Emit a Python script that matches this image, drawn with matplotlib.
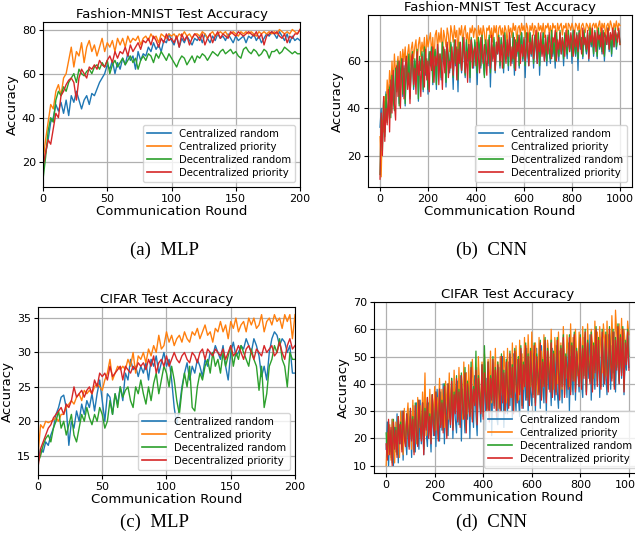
import numpy as np
import matplotlib
matplotlib.use("Agg")
import matplotlib.pyplot as plt

labels = ["Centralized random", "Centralized priority", "Decentralized random", "Decentralized priority"]
colors = ["#1f77b4", "#ff7f0e", "#2ca02c", "#d62728"]

rounds_mlp = np.arange(0, 201, 2)
rounds_cnn = np.arange(0, 1001, 5)

# (a) Fashion-MNIST, MLP
fm_mlp_cr = [17, 24, 30, 38, 40, 46, 43, 47, 42, 48,
             41, 50, 47, 52, 48, 44, 48, 50, 46, 51,
             50, 53, 56, 58, 60, 64, 62, 66, 60, 65,
             62, 67, 64, 69, 66, 68, 62, 70, 66, 69,
             68, 72, 70, 74, 71, 73, 70, 75, 74, 78,
             75, 73, 77, 72, 76, 74, 77, 75, 73, 76,
             75, 77, 74, 78, 76, 74, 77, 75, 78, 76,
             77, 75, 78, 76, 74, 77, 75, 76, 77, 74,
             77, 76, 78, 75, 77, 74, 76, 78, 77, 79,
             78, 76, 79, 77, 75, 78, 74, 77, 75, 76,
             75]
fm_mlp_cp = [20, 30, 38, 46, 44, 52, 55, 50, 58, 60,
             66, 72, 63, 70, 68, 74, 65, 72, 75, 70,
             73, 68, 72, 76, 70, 74, 72, 75, 70, 76,
             73, 76, 72, 77, 74, 76, 75, 77, 73, 76,
             77, 75, 78, 76, 77, 74, 78, 77, 76, 78,
             77, 78, 76, 78, 77, 79, 77, 78, 76, 78,
             78, 77, 79, 78, 76, 78, 79, 77, 78, 79,
             78, 79, 77, 78, 79, 78, 77, 79, 78, 79,
             78, 79, 78, 77, 79, 78, 79, 78, 79, 78,
             79, 78, 80, 79, 78, 79, 78, 80, 79, 78,
             80]
fm_mlp_dr = [12, 22, 34, 40, 38, 48, 52, 50, 54, 52,
             56, 58, 60, 56, 62, 60, 59, 61, 62, 60,
             63, 64, 62, 65, 63, 66, 60, 64, 66, 63,
             65, 67, 64, 66, 68, 65, 67, 62, 66, 68,
             66, 69, 68, 65, 69, 67, 70, 68, 66, 69,
             67, 65, 63, 66, 68, 67, 64, 66, 68, 65,
             68, 67, 69, 68, 66, 68, 70, 69, 68, 70,
             71, 69, 70, 71, 69, 70, 68, 67, 71, 72,
             70, 69, 71, 70, 68, 69, 71, 70, 67, 70,
             70, 71, 69, 70, 72, 71, 70, 69, 70, 69,
             69]
fm_mlp_dp = [18, 24, 30, 28, 35, 42, 40, 50, 52, 55,
             57, 58, 56, 48, 58, 62, 60, 58, 63, 62,
             64, 62, 66, 64, 63, 66, 68, 65, 70, 67,
             70, 69, 72, 68, 73, 70, 72, 74, 71, 75,
             74, 76, 73, 77, 75, 72, 76, 74, 78, 75,
             76, 74, 77, 72, 78, 75, 77, 73, 76, 78,
             77, 75, 78, 73, 76, 78, 74, 77, 79, 76,
             78, 77, 76, 79, 78, 77, 79, 78, 77, 78,
             79, 78, 77, 79, 76, 78, 73, 77, 78, 79,
             78, 79, 77, 76, 78, 74, 77, 76, 78, 78,
             80]

# (b) Fashion-MNIST, CNN
fm_cnn_cr = [32, 40, 25, 44, 30, 47, 35, 42, 50, 38, 55, 46, 40, 57, 48, 59, 42, 56, 60, 45,
             58, 41, 61, 50, 62, 44, 57, 63, 48, 60, 52, 64, 43, 61, 56, 63, 47, 65, 54, 60,
             46, 63, 58, 66, 50, 61, 64, 48, 66, 57, 62, 52, 67, 59, 64, 49, 66, 61, 55, 67,
             62, 48, 68, 58, 65, 47, 67, 61, 55, 69, 63, 53, 68, 60, 66, 51, 69, 64, 57, 68,
             61, 50, 69, 65, 57, 70, 60, 54, 68, 63, 58, 70, 49, 66, 61, 69, 55, 67, 63, 70,
             57, 69, 64, 55, 71, 61, 67, 56, 70, 63, 59, 71, 54, 68, 62, 70, 57, 66, 72, 60,
             68, 53, 71, 63, 58, 72, 62, 69, 57, 70, 65, 59, 71, 54, 68, 63, 72, 60, 67, 58,
             70, 64, 59, 72, 62, 68, 57, 71, 65, 60, 72, 63, 69, 58, 71, 66, 61, 72, 64, 70,
             59, 72, 66, 62, 71, 56, 73, 65, 69, 61, 72, 67, 63, 71, 60, 73, 66, 70, 62, 72,
             68, 61, 73, 65, 71, 63, 72, 60, 70, 67, 73, 64, 71, 62, 72, 66, 73, 65, 70, 72,
             68]
fm_cnn_cp = [28, 11, 35, 30, 45, 38, 52, 44, 56, 48, 60, 50, 63, 55, 58, 62, 52, 64, 57, 65,
             60, 66, 55, 63, 67, 58, 65, 68, 61, 66, 69, 57, 67, 70, 62, 68, 64, 70, 59, 71,
             66, 69, 72, 63, 70, 60, 71, 73, 65, 72, 68, 74, 62, 73, 70, 66, 74, 71, 64, 75,
             72, 68, 75, 70, 73, 63, 74, 71, 75, 67, 73, 75, 69, 72, 65, 74, 72, 75, 70, 74,
             73, 66, 75, 71, 74, 69, 75, 72, 64, 74, 73, 75, 70, 74, 68, 75, 72, 75, 66, 74,
             75, 71, 74, 69, 75, 73, 67, 75, 72, 74, 70, 76, 73, 75, 68, 74, 75, 71, 76, 73,
             75, 70, 76, 74, 68, 75, 73, 76, 71, 75, 74, 69, 76, 73, 75, 72, 76, 70, 75, 74,
             76, 72, 75, 70, 76, 74, 75, 69, 76, 73, 75, 76, 71, 75, 74, 76, 70, 76, 75, 73,
             76, 74, 71, 76, 75, 73, 76, 70, 75, 76, 74, 72, 76, 75, 73, 76, 71, 75, 76, 74,
             76, 73, 75, 77, 72, 76, 74, 76, 70, 75, 76, 73, 77, 75, 72, 76, 74, 77, 73, 76,
             75]
fm_cnn_dr = [12, 36, 22, 43, 28, 46, 34, 40, 49, 36, 54, 44, 39, 57, 47, 60, 41, 55, 61, 46,
             57, 42, 62, 51, 63, 45, 58, 64, 49, 61, 53, 65, 44, 62, 56, 64, 48, 66, 55, 61,
             48, 64, 59, 66, 51, 62, 65, 50, 67, 58, 63, 53, 68, 60, 65, 51, 67, 62, 56, 68,
             63, 53, 69, 59, 66, 52, 68, 62, 56, 70, 64, 54, 69, 61, 67, 53, 70, 65, 58, 69,
             62, 55, 70, 66, 58, 71, 61, 53, 69, 64, 59, 71, 55, 67, 62, 70, 56, 68, 64, 71,
             58, 70, 65, 57, 72, 62, 68, 58, 71, 64, 60, 72, 57, 69, 63, 71, 58, 67, 72, 61,
             69, 58, 72, 64, 60, 72, 63, 70, 59, 71, 66, 61, 72, 58, 69, 64, 72, 62, 68, 60,
             71, 65, 61, 73, 63, 69, 60, 72, 66, 62, 73, 64, 70, 61, 72, 67, 63, 73, 65, 71,
             62, 73, 67, 63, 72, 61, 73, 66, 70, 62, 73, 68, 64, 72, 62, 74, 67, 71, 63, 73,
             69, 62, 74, 66, 72, 64, 73, 62, 71, 68, 74, 65, 72, 63, 73, 67, 74, 66, 71, 73,
             67]
fm_cnn_dp = [10, 38, 20, 45, 26, 40, 33, 48, 30, 52, 38, 56, 42, 35, 58, 45, 60, 40, 55, 61,
             44, 58, 62, 48, 55, 42, 60, 63, 50, 57, 46, 64, 54, 60, 45, 62, 58, 49, 65, 52,
             60, 47, 64, 56, 66, 51, 62, 58, 67, 50, 63, 59, 48, 66, 55, 62, 68, 53, 60, 57,
             66, 54, 63, 69, 52, 65, 59, 68, 56, 62, 70, 55, 64, 51, 67, 60, 69, 57, 64, 66,
             58, 68, 62, 55, 70, 64, 59, 67, 61, 54, 69, 63, 57, 71, 60, 66, 56, 68, 63, 70,
             60, 67, 57, 71, 64, 59, 69, 62, 72, 58, 66, 61, 70, 56, 68, 64, 71, 59, 67, 62,
             70, 60, 65, 72, 58, 68, 63, 71, 61, 66, 73, 59, 69, 64, 72, 62, 67, 60, 71, 65,
             63, 72, 66, 61, 70, 68, 73, 60, 69, 65, 72, 63, 70, 67, 62, 73, 66, 71, 64, 72,
             68, 62, 73, 66, 71, 64, 72, 69, 63, 74, 67, 70, 65, 73, 61, 71, 68, 74, 66, 72,
             64, 73, 69, 71, 66, 74, 63, 72, 70, 67, 74, 65, 72, 69, 74, 66, 73, 71, 68, 74,
             67]

# (c) CIFAR, MLP
cf_mlp_cr = [14, 16, 15.5, 17, 16.5, 18, 19, 21, 22, 23.5,
             23.8, 22, 16.5, 20, 19, 21.5, 20, 22.5, 21, 23,
             22, 24, 21.5, 24, 26, 23, 20, 24, 23.5, 21,
             24, 22.5, 25, 23, 27, 26, 29, 27.5, 28, 26.5,
             28, 27, 28.5, 26, 29, 28, 29.5, 27, 28.5, 30,
             28, 29, 26, 22, 19.5, 22, 25, 27, 28.5, 26,
             28, 27, 29, 28, 26.5, 29, 28, 30, 29.5, 31,
             30, 29, 31, 28, 26, 30, 31.5, 29.5, 30, 31,
             30.5, 32, 31, 30, 32, 31, 29.5, 26.5, 28, 26,
             30, 32, 33, 32.5, 31, 32, 31.5, 30, 31, 27,
             27]
cf_mlp_cp = [15, 19.5, 19, 20, 19.8, 20, 20.2, 20.5, 20, 21,
             21, 22, 22.5, 23, 22.5, 23.5, 24, 23, 24.5, 24,
             24.5, 24, 25, 25.5, 25, 24.5, 26, 27, 29, 26,
             27, 28, 27.5, 28, 27.5, 29, 28, 30, 27, 29.5,
             29, 30, 28.5, 30.5, 29.5, 31, 30, 32.5, 30.5, 31,
             33, 31.5, 32.5, 31, 32, 32.5, 31.5, 33, 32, 31.5,
             33, 32.5, 33.5, 32, 33, 34, 32.5, 33, 31.5, 33.5,
             33, 34.5, 33, 34, 32, 34.5, 33.5, 35, 33, 34,
             34.5, 33, 35, 34, 35, 33.5, 34, 35.5, 33, 34.5,
             35, 34, 35.5, 34.5, 35, 33.5, 35.5, 34.5, 35.5, 32,
             35.5]
cf_mlp_dr = [14, 15, 16.5, 17.5, 18, 17, 19, 20, 21.5, 19,
             20, 18, 19.5, 21, 18, 17, 19, 21, 20, 22,
             20.5, 19.5, 21, 20, 22, 21, 19, 20, 23, 21,
             24, 22, 25, 23.5, 24.5, 25, 23, 22, 25, 24,
             26, 24, 22.5, 25, 23, 25.5, 27, 24, 26, 28,
             27, 25, 28, 26, 23, 21, 24.5, 27, 25, 28,
             22, 21.5, 25, 27, 26, 28, 29, 27, 30, 28,
             29, 27, 30, 28, 29.5, 31, 28, 30, 29, 31,
             30, 29, 28, 30.5, 29, 28, 24.5, 28, 22, 24,
             28, 29, 31, 30, 32, 29, 28, 25, 30, 29,
             29]
cf_mlp_dp = [13.3, 16, 17, 18, 19, 19.5, 20.5, 21, 21.5, 22,
             21, 22.5, 22, 23, 25, 23.5, 24, 24.5, 23.5, 24.5,
             25, 24, 26, 25, 27, 26.5, 27, 26, 28, 26.5,
             27, 27.5, 28, 26, 28, 27.5, 27, 28, 27.5, 28.5,
             28, 28.5, 27.5, 29, 28, 29.5, 27, 28.5, 29, 28,
             29.5, 28, 29, 30, 29, 28.5, 29.5, 30, 29, 28.5,
             30, 29.5, 28.5, 30, 30.5, 29, 30.5, 30, 29.5, 30.5,
             30, 29.5, 30.5, 29, 30, 31, 29.5, 30, 31, 30,
             29, 30.5, 31, 30, 29, 30.5, 30, 29.5, 31, 30,
             30.5, 31, 29.5, 30, 31.5, 30, 29, 31, 32, 30.5,
             31]

# (d) CIFAR, CNN
cf_cnn_cr = [16, 26, 10, 22, 13, 27, 10, 24, 15, 29, 11, 25, 18, 30, 12, 27, 20, 14, 31, 17,
             28, 13, 32, 20, 15, 33, 24, 16, 34, 18, 29, 14, 35, 22, 17, 33, 25, 15, 36, 21,
             34, 17, 38, 26, 19, 37, 23, 40, 18, 35, 28, 21, 39, 24, 42, 20, 36, 27, 22, 41,
             25, 43, 19, 38, 30, 22, 44, 27, 41, 20, 45, 32, 24, 43, 29, 21, 46, 34, 26, 44,
             30, 47, 23, 42, 35, 27, 49, 21, 44, 33, 48, 28, 25, 46, 37, 30, 50, 24, 43, 36,
             29, 48, 32, 47, 27, 51, 38, 30, 49, 35, 28, 52, 41, 31, 47, 34, 53, 29, 45, 37,
             32, 51, 44, 30, 53, 36, 48, 31, 54, 40, 33, 50, 29, 55, 38, 45, 32, 53, 42, 34,
             54, 37, 31, 52, 46, 33, 56, 39, 48, 35, 55, 30, 50, 42, 36, 57, 34, 51, 44, 37,
             55, 40, 35, 57, 47, 36, 53, 42, 58, 34, 50, 45, 38, 59, 41, 55, 35, 48, 57, 39,
             56, 43, 36, 58, 49, 38, 54, 44, 59, 37, 52, 47, 40, 57, 42, 55, 36, 50, 45, 59,
             46]
cf_cnn_cp = [10, 22, 14, 25, 12, 27, 18, 11, 26, 15, 28, 13, 30, 20, 14, 31, 17, 27, 33, 19,
             30, 16, 34, 22, 28, 18, 35, 24, 32, 20, 37, 26, 44, 21, 33, 25, 38, 22, 36, 27,
             39, 23, 35, 28, 42, 25, 38, 30, 24, 41, 33, 27, 44, 29, 40, 26, 45, 32, 38, 28,
             46, 30, 42, 27, 48, 34, 44, 29, 47, 36, 31, 49, 40, 33, 46, 30, 50, 38, 32, 48,
             35, 51, 42, 30, 49, 37, 52, 33, 46, 39, 53, 34, 48, 31, 50, 40, 36, 52, 44, 33,
             53, 38, 49, 35, 55, 42, 37, 54, 45, 34, 56, 40, 51, 38, 57, 43, 36, 58, 47, 39,
             59, 44, 38, 55, 48, 36, 57, 42, 52, 39, 58, 46, 37, 56, 50, 41, 60, 45, 38, 57,
             49, 40, 59, 44, 55, 38, 61, 47, 42, 58, 52, 39, 62, 46, 57, 41, 60, 50, 43, 59,
             53, 41, 61, 47, 58, 43, 62, 50, 44, 60, 55, 42, 63, 48, 59, 45, 61, 52, 44, 62,
             56, 43, 63, 49, 60, 46, 65, 53, 45, 67, 58, 47, 62, 51, 64, 46, 60, 55, 48, 63,
             58]
cf_cnn_dr = [22, 13, 26, 15, 23, 11, 27, 17, 24, 14, 28, 19, 26, 16, 30, 21, 18, 29, 23, 17,
             31, 20, 28, 15, 33, 23, 18, 34, 26, 20, 33, 16, 31, 24, 35, 21, 29, 19, 36, 25,
             22, 37, 28, 20, 38, 25, 34, 23, 40, 29, 21, 40, 31, 26, 42, 24, 37, 30, 43, 27,
             38, 25, 44, 32, 28, 46, 23, 41, 34, 29, 48, 27, 39, 33, 52, 26, 43, 36, 30, 47,
             28, 54, 37, 31, 48, 27, 43, 35, 50, 32, 46, 29, 48, 38, 31, 51, 34, 45, 30, 49,
             39, 32, 52, 36, 47, 30, 53, 41, 34, 50, 37, 54, 32, 48, 40, 55, 35, 51, 33, 53,
             42, 36, 55, 33, 51, 44, 37, 56, 35, 49, 40, 57, 34, 53, 46, 38, 56, 36, 52, 43,
             37, 57, 45, 35, 54, 40, 58, 36, 51, 47, 39, 58, 37, 55, 42, 59, 38, 53, 46, 40,
             58, 39, 54, 43, 60, 37, 56, 48, 41, 59, 38, 55, 45, 61, 40, 57, 43, 39, 60, 47,
             41, 59, 45, 38, 61, 49, 42, 60, 39, 57, 46, 62, 41, 58, 44, 61, 38, 56, 48, 60,
             50]
cf_cnn_dp = [18, 12, 27, 14, 24, 10, 26, 16, 23, 13, 28, 18, 25, 15, 30, 20, 17, 29, 22, 16,
             31, 19, 27, 14, 32, 22, 17, 34, 25, 19, 33, 14, 30, 23, 35, 20, 28, 18, 36, 24,
             21, 37, 27, 19, 38, 24, 33, 22, 39, 28, 20, 40, 30, 25, 41, 23, 36, 29, 42, 26,
             37, 24, 43, 31, 27, 44, 22, 40, 33, 28, 46, 26, 38, 32, 45, 25, 42, 35, 29, 47,
             27, 44, 36, 30, 48, 26, 42, 34, 49, 31, 45, 28, 47, 37, 30, 50, 33, 44, 29, 48,
             38, 31, 51, 35, 46, 29, 52, 40, 33, 49, 36, 53, 31, 47, 39, 54, 34, 50, 32, 52,
             41, 35, 54, 32, 50, 43, 36, 55, 34, 48, 39, 56, 33, 52, 45, 37, 55, 35, 51, 42,
             36, 56, 44, 34, 53, 39, 57, 35, 50, 46, 38, 57, 36, 54, 41, 58, 37, 52, 45, 39,
             57, 38, 53, 42, 59, 36, 55, 47, 40, 58, 37, 54, 44, 60, 39, 56, 42, 38, 59, 46,
             40, 58, 44, 37, 60, 48, 41, 59, 38, 56, 45, 61, 40, 57, 43, 60, 37, 55, 47, 59,
             45]

W, H = 635, 550
fig = plt.figure(figsize=(W / 100, H / 100), dpi=100)


def px_axes(left, top, right, bottom):
    return fig.add_axes([left / W, 1 - bottom / H, (right - left) / W, (bottom - top) / H])


def draw(ax, x, series, title, lw, xlim=None, ylim=None):
    for s, c, lab in zip(series, colors, labels):
        ax.plot(x, s, color=c, lw=lw, label=lab)
    ax.set_title(title, fontsize=9.5, pad=3)
    ax.set_xlabel("Communication Round", fontsize=9.5, labelpad=1)
    ax.set_ylabel("Accuracy", fontsize=9.5, labelpad=2)
    ax.tick_params(labelsize=8, length=3, pad=2)
    ax.grid(True, color="#b0b0b0", lw=0.9)
    if xlim is not None:
        ax.set_xlim(*xlim)
    if ylim is not None:
        ax.set_ylim(*ylim)
    leg = ax.legend(loc="lower right", fontsize=7.3, handlelength=2.3, borderpad=0.4,
                    labelspacing=0.3, framealpha=0.8)
    for h in leg.get_lines():
        h.set_linewidth(1.2)


ax_a = px_axes(43, 22, 300, 187)
draw(ax_a, rounds_mlp, [fm_mlp_cr, fm_mlp_cp, fm_mlp_dr, fm_mlp_dp],
     "Fashion-MNIST Test Accuracy", 1.0, xlim=(0, 200))

ax_b = px_axes(368, 15, 632, 187)
draw(ax_b, rounds_cnn, [fm_cnn_cr, fm_cnn_cp, fm_cnn_dr, fm_cnn_dp],
     "Fashion-MNIST Test Accuracy", 0.9, xlim=(-50, 1050), ylim=(6.7, 79.5))

ax_c = px_axes(38, 307, 295, 475)
draw(ax_c, rounds_mlp, [cf_mlp_cr, cf_mlp_cp, cf_mlp_dr, cf_mlp_dp],
     "CIFAR Test Accuracy", 1.0, xlim=(0, 200))

ax_d = px_axes(374, 302, 641, 473)
draw(ax_d, rounds_cnn, [cf_cnn_cr, cf_cnn_cp, cf_cnn_dr, cf_cnn_dp],
     "CIFAR Test Accuracy", 0.9, xlim=(-50, 1050), ylim=(7.3, 70))

cap = dict(fontsize=13.5, family="Liberation Serif", ha="center", va="center")
fig.text(164 / W, 1 - 250 / H, "(a)  MLP", **cap)
fig.text(492 / W, 1 - 250 / H, "(b)  CNN", **cap)
fig.text(155 / W, 1 - 522 / H, "(c)  MLP", **cap)
fig.text(491 / W, 1 - 522 / H, "(d)  CNN", **cap)

fig.savefig("out.png", dpi=100)
